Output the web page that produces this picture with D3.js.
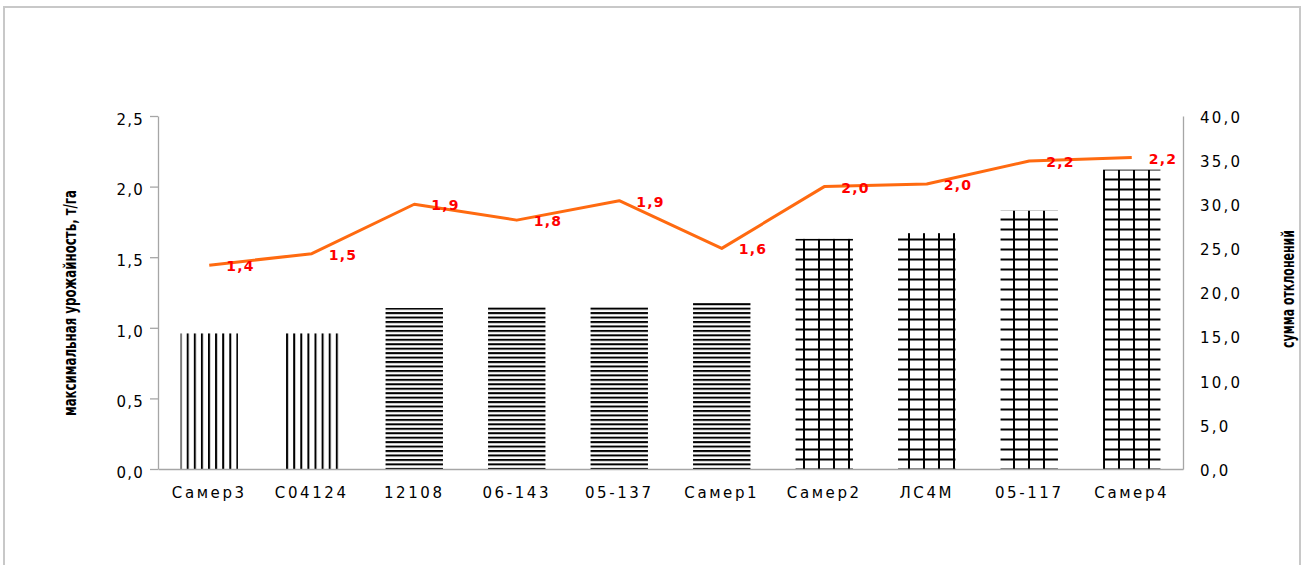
<!DOCTYPE html>
<html>
<head>
<meta charset="utf-8">
<script src="https://cdn.jsdelivr.net/npm/d3@7"></script>
<style>
  html, body { margin: 0; padding: 0; background: #fff; }
  svg { display: block; }
</style>
</head>
<body>
<svg id="chart" width="1303" height="565"></svg>
<script>
// ---- data ----
const categories = ["Самер3", "С04124", "12108", "06-143", "05-137", "Самер1", "Самер2", "ЛС4М", "05-117", "Самер4"];
const maxYield = [0.96, 0.96, 1.14, 1.15, 1.15, 1.18, 1.63, 1.67, 1.83, 2.12];
const deviationSum = [23.1, 24.4, 30.0, 28.2, 30.4, 25.0, 32.0, 32.3, 34.9, 35.3];
const lineLabels = ["1,4", "1,5", "1,9", "1,8", "1,9", "1,6", "2,0", "2,0", "2,2", "2,2"];
const leftTicks = [0, 0.5, 1.0, 1.5, 2.0, 2.5];
const rightTicks = [0, 5, 10, 15, 20, 25, 30, 35, 40];
const leftTitle = "максимальная урожайность, т/га";
const rightTitle = "сумма отклонений";

// ---- layout ----
const svg = d3.select("#chart");
const plot = { left: 158, right: 1183, top: 116, bottom: 469 };
const fmt = d => d.toFixed(1).replace(".", ",");

// frame
svg.append("rect").attr("x", 4).attr("y", 7).attr("width", 1296).attr("height", 600)
  .attr("fill", "none").attr("stroke", "#c8c8c8").attr("stroke-width", 2);

const x = d3.scaleBand().domain(categories).range([plot.left, plot.right])
  .paddingInner(0.44).paddingOuter(0.22);
const yL = d3.scaleLinear().domain([0, 2.5]).range([plot.bottom, plot.top]);
const yR = d3.scaleLinear().domain([0, 40]).range([plot.bottom, plot.top]);

// ---- patterns ----
const defs = svg.append("defs");
const pv = defs.append("pattern").attr("id", "pv").attr("patternUnits", "userSpaceOnUse")
  .attr("width", 7.1).attr("height", 10).attr("x", 2.1).attr("y", 0);
pv.append("rect").attr("x", 0).attr("y", 0).attr("width", 2).attr("height", 10).attr("fill", "#000");

const ph = defs.append("pattern").attr("id", "ph").attr("patternUnits", "userSpaceOnUse")
  .attr("width", 10).attr("height", 4.45).attr("x", 0).attr("y", 0.6);
ph.append("rect").attr("x", 0).attr("y", 0).attr("width", 10).attr("height", 2).attr("fill", "#000");

const pg = defs.append("pattern").attr("id", "pg").attr("patternUnits", "userSpaceOnUse")
  .attr("width", 15).attr("height", 10).attr("x", 0).attr("y", 0.5);
pg.append("rect").attr("x", 8).attr("y", 0).attr("width", 2).attr("height", 10).attr("fill", "#000");
pg.append("rect").attr("x", 0).attr("y", 8).attr("width", 15).attr("height", 2).attr("fill", "#000");

const patternOf = i => (i < 2 ? "url(#pv)" : i < 6 ? "url(#ph)" : "url(#pg)");

// ---- bars ----
svg.append("g").selectAll("rect").data(maxYield).join("rect")
  .attr("x", (d, i) => x(categories[i]))
  .attr("width", x.bandwidth())
  .attr("y", d => yL(d))
  .attr("height", d => yL(0) - yL(d))
  .attr("fill", (d, i) => patternOf(i));

// ---- axes ----
const axisColor = "#a6a6a6";
const tickFont = "'DejaVu Sans', Verdana, sans-serif";

const gL = svg.append("g").attr("transform", `translate(${plot.left},0)`)
  .call(d3.axisLeft(yL).tickValues(leftTicks).tickFormat(fmt).tickSize(8).tickSizeOuter(0).tickPadding(6));
const gR = svg.append("g").attr("transform", `translate(${plot.right},0)`)
  .call(d3.axisRight(yR).tickValues(rightTicks).tickFormat(fmt).tickSize(0).tickSizeOuter(0).tickPadding(17));
[gL, gR].forEach(g => {
  g.select(".domain").attr("stroke", axisColor).attr("stroke-width", 1.3);
  g.selectAll(".tick line").attr("stroke", axisColor).attr("stroke-width", 1.3);
  g.selectAll(".tick text").attr("fill", "#000").style("font-family", tickFont)
    .style("font-size", "15px");
});
gL.selectAll(".tick text").attr("dy", "0.55em").style("letter-spacing", "1.2px");
gR.selectAll(".tick text").attr("dy", "0.42em").style("letter-spacing", "2.2px");

const gB = svg.append("g").attr("transform", `translate(0,${plot.bottom})`)
  .call(d3.axisBottom(x).tickSize(0).tickSizeOuter(0).tickPadding(18));
gB.select(".domain").attr("stroke", axisColor).attr("stroke-width", 1.3);
gB.selectAll(".tick text").attr("fill", "#000").style("font-family", tickFont)
  .style("font-size", "15px").style("letter-spacing", "2.6px");

// ---- line ----
const cx = c => x(c) + x.bandwidth() / 2;
const line = d3.line().x((d, i) => cx(categories[i])).y(d => yR(d));
svg.append("path").datum(deviationSum).attr("d", line)
  .attr("fill", "none").attr("stroke", "#ff6a10").attr("stroke-width", 3)
  .attr("stroke-linejoin", "round");

svg.append("g").selectAll("text").data(deviationSum).join("text")
  .attr("x", (d, i) => cx(categories[i]) + 17)
  .attr("y", d => yR(d) + 1)
  .attr("dy", "0.36em")
  .text((d, i) => lineLabels[i])
  .attr("fill", "#ff0000")
  .style("font-family", tickFont).style("font-weight", "bold")
  .style("font-size", "14px").style("letter-spacing", "1.2px");

// ---- axis titles ----
const titleFont = "'Liberation Sans Narrow', 'Arial Narrow', 'DejaVu Sans Condensed', sans-serif";
svg.append("text").attr("transform", "translate(76,303) rotate(-90)")
  .attr("text-anchor", "middle").text(leftTitle)
  .attr("textLength", 226).attr("lengthAdjust", "spacingAndGlyphs")
  .style("font-family", titleFont).style("font-weight", "bold").style("font-size", "17.5px");
svg.append("text").attr("transform", "translate(1294,289) rotate(-90)")
  .attr("text-anchor", "middle").text(rightTitle)
  .attr("textLength", 118).attr("lengthAdjust", "spacingAndGlyphs")
  .style("font-family", titleFont).style("font-weight", "bold").style("font-size", "17.5px");
</script>
</body>
</html>
